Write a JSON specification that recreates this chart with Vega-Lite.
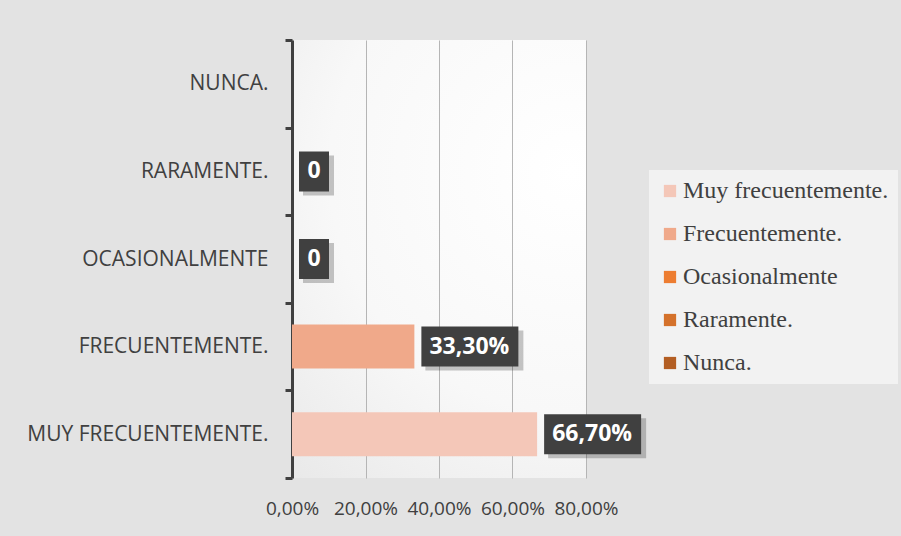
{
  "$schema": "https://vega.github.io/schema/vega-lite/v6.json",
  "width": 294,
  "height": 438,
  "autosize": "none",
  "padding": {"left": 292, "top": 40, "right": 315, "bottom": 58},
  "background": "#e3e3e3",
  "config": {
    "view": {
      "stroke": null,
      "fill": {"gradient": "radial", "x1": 0.8, "y1": 0.3, "r1": 0, "x2": 0.8, "y2": 0.3, "r2": 1.1,
        "stops": [{"offset": 0, "color": "#ffffff"}, {"offset": 0.5, "color": "#f8f8f8"}, {"offset": 1, "color": "#e3e3e3"}]}
    }
  },
  "data": {
    "values": [
      {"cat": "Nunca.", "v": 0, "label": null, "kind": "none"},
      {"cat": "Raramente.", "v": 0, "label": "0", "kind": "zero"},
      {"cat": "Ocasionalmente", "v": 0, "label": "0", "kind": "zero"},
      {"cat": "Frecuentemente.", "v": 0.333, "label": "33,30%", "kind": "pct"},
      {"cat": "Muy frecuentemente.", "v": 0.667, "label": "66,70%", "kind": "pct"}
    ]
  },
  "encoding": {
    "y": {
      "field": "cat", "type": "nominal",
      "sort": ["Nunca.", "Raramente.", "Ocasionalmente", "Frecuentemente.", "Muy frecuentemente."],
      "scale": {"paddingInner": 0, "paddingOuter": 0},
      "axis": {
        "title": null,
        "labelExpr": "upper(datum.label)",
        "labelFont": "Open Sans", "labelFontSize": 21, "labelColor": "#404040",
        "labelPadding": 17, "labelLimit": 0,
        "domainColor": "#404040", "domainWidth": 3,
        "tickBand": "extent", "tickSize": 7, "tickWidth": 3, "tickColor": "#404040",
        "grid": false
      }
    }
  },
  "layer": [
    {
      "mark": {"type": "bar", "size": 44},
      "encoding": {
        "x": {
          "field": "v", "type": "quantitative",
          "scale": {"domain": [0, 0.8], "nice": false},
          "axis": {
            "title": null,
            "values": [0, 0.2, 0.4, 0.6, 0.8],
            "labelExpr": "replace(format(datum.value, '.2%'), '.', ',')",
            "labelFont": "Open Sans", "labelFontSize": 19, "labelColor": "#404040",
            "labelPadding": 21, "labelOverlap": false, "labelBound": false, "labelFlush": false,
            "domain": false, "ticks": false,
            "grid": true, "gridColor": "#b5b5b5", "gridWidth": 1
          }
        },
        "color": {
          "field": "cat", "type": "nominal",
          "scale": {
            "domain": ["Muy frecuentemente.", "Frecuentemente.", "Ocasionalmente", "Raramente.", "Nunca."],
            "range": ["#F4C7B8", "#F0A98A", "#ED7D31", "#D4712B", "#B35E23"]
          },
          "legend": {
            "title": null,
            "orient": "none", "legendX": 357, "legendY": 130,
            "symbolType": "square", "symbolSize": 150, "symbolStrokeWidth": 0,
            "labelFont": "Liberation Serif", "labelFontSize": 24, "labelColor": "#404040",
            "labelLimit": 300, "labelOffset": 1,
            "rowPadding": 19, "padding": 9,
            "fillColor": "#f2f2f2"
          }
        }
      }
    },
    {
      "transform": [{"filter": "datum.kind == 'pct'"}],
      "mark": {"type": "bar", "size": 40, "color": "#000000", "opacity": 0.22, "xOffset": 11, "x2Offset": 109, "yOffset": 4},
      "encoding": {"x": {"field": "v", "type": "quantitative"}, "x2": {"field": "v"}}
    },
    {
      "transform": [{"filter": "datum.kind == 'zero'"}],
      "mark": {"type": "bar", "size": 40, "color": "#000000", "opacity": 0.22, "xOffset": 11, "x2Offset": 42, "yOffset": 4},
      "encoding": {"x": {"field": "v", "type": "quantitative"}, "x2": {"field": "v"}}
    },
    {
      "transform": [{"filter": "datum.kind == 'pct'"}],
      "mark": {"type": "bar", "size": 40, "color": "#404040", "xOffset": 7, "x2Offset": 104},
      "encoding": {"x": {"field": "v", "type": "quantitative"}, "x2": {"field": "v"}}
    },
    {
      "transform": [{"filter": "datum.kind == 'zero'"}],
      "mark": {"type": "bar", "size": 40, "color": "#404040", "xOffset": 7, "x2Offset": 37},
      "encoding": {"x": {"field": "v", "type": "quantitative"}, "x2": {"field": "v"}}
    },
    {
      "transform": [{"filter": "datum.kind == 'pct'"}],
      "mark": {"type": "text", "color": "#ffffff", "font": "Open Sans", "fontWeight": "bold", "fontSize": 23, "align": "center", "baseline": "middle", "dx": 55},
      "encoding": {"x": {"field": "v", "type": "quantitative"}, "text": {"field": "label"}}
    },
    {
      "transform": [{"filter": "datum.kind == 'zero'"}],
      "mark": {"type": "text", "color": "#ffffff", "font": "Open Sans", "fontWeight": "bold", "fontSize": 23, "align": "center", "baseline": "middle", "dx": 22},
      "encoding": {"x": {"field": "v", "type": "quantitative"}, "text": {"field": "label"}}
    }
  ]
}
